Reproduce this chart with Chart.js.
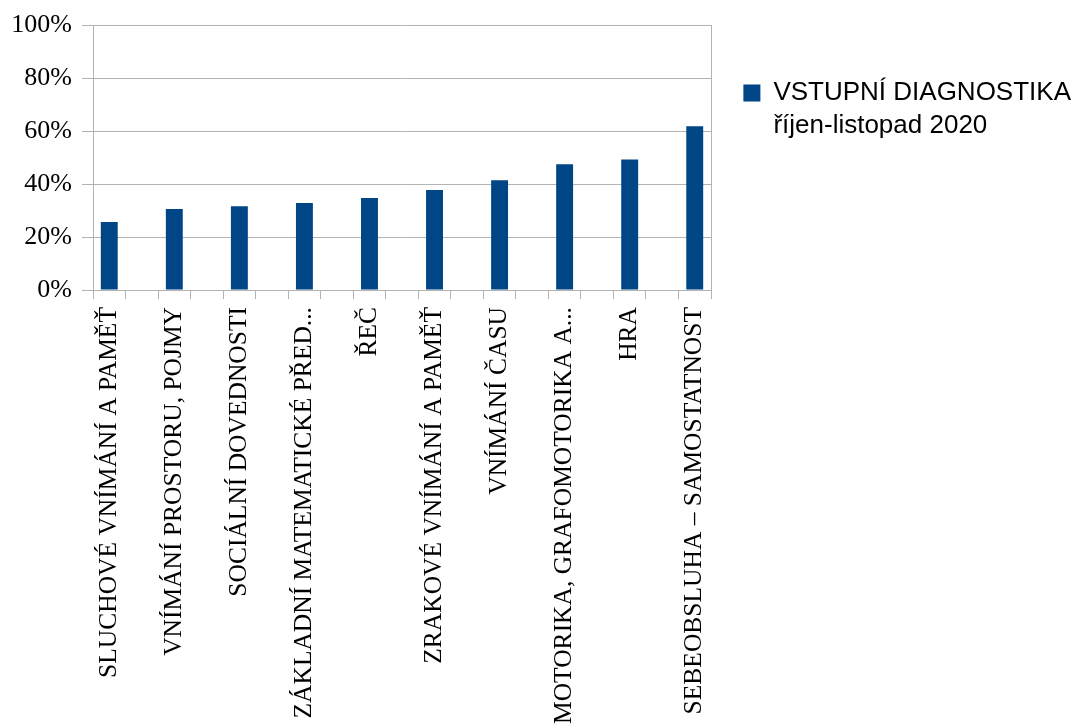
<!DOCTYPE html>
<html><head><meta charset="utf-8">
<script src="https://cdn.jsdelivr.net/npm/chart.js@4"></script>
<style>html,body{margin:0;padding:0;background:#fff}</style>
</head><body>
<canvas id="c" width="1075" height="724"></canvas>
<script>
const categories = [
  'SLUCHOVÉ VNÍMÁNÍ A PAMĚŤ',
  'VNÍMÁNÍ PROSTORU, POJMY',
  'SOCIÁLNÍ DOVEDNOSTI',
  'ZÁKLADNÍ MATEMATICKÉ PŘED...',
  'ŘEČ',
  'ZRAKOVÉ VNÍMÁNÍ A PAMĚŤ',
  'VNÍMÁNÍ ČASU',
  'MOTORIKA, GRAFOMOTORIKA A...',
  'HRA',
  'SEBEOBSLUHA – SAMOSTATNOST'
];
const values = [25.7, 30.6, 31.7, 32.9, 34.8, 37.8, 41.5, 47.6, 49.4, 61.9];
const seriesName = ['VSTUPNÍ DIAGNOSTIKA', 'říjen-listopad 2020'];
const yTickValues = [0, 20, 40, 60, 80, 100];

// every category is followed by an empty slot (as in the reference)
const slotLabels = categories.flatMap((c, i) => i < categories.length - 1 ? [c, ''] : [c]);
const slotValues = values.flatMap((v, i) => i < values.length - 1 ? [v, null] : [v]);

const barColor = '#004586';
const gridColor = '#b3b3b3';
const serif = "'Liberation Serif', 'Times New Roman', serif";
const sans = "'Liberation Sans', Arial, sans-serif";
const padRight = -6;

new Chart(document.getElementById('c'), {
  type: 'bar',
  data: {
    labels: slotLabels,
    datasets: [{
      label: seriesName.join(' '),
      data: slotValues,
      backgroundColor: barColor,
      borderWidth: 0,
      categoryPercentage: 1,
      barPercentage: 0.52
    }]
  },
  options: {
    responsive: false,
    animation: false,
    layout: { padding: { top: 24, right: padRight, bottom: 0, left: 0 } },
    plugins: {
      tooltip: { enabled: false },
      legend: {
        position: 'right',
        align: 'start',
        maxWidth: 420,
        title: { display: true, text: '', font: { size: 1, lineHeight: 1 }, padding: { top: 48, bottom: 0 } },
        labels: {
          boxWidth: 17,
          boxHeight: 17,
          padding: 7,
          color: '#000',
          font: { family: sans, size: 26 },
          generateLabels: () => seriesName.map((t, i) => ({
            text: t,
            fillStyle: i === 0 ? barColor : 'rgba(0,0,0,0)',
            strokeStyle: 'rgba(0,0,0,0)',
            lineWidth: 0,
            hidden: false,
            datasetIndex: 0,
            fontColor: '#000'
          }))
        }
      }
    },
    scales: {
      x: {
        offset: true,
        grid: { offset: true, drawOnChartArea: false, color: gridColor, tickLength: 9, lineWidth: 1 },
        border: { display: true, color: gridColor },
        ticks: {
          autoSkip: false, minRotation: 90, maxRotation: 90, padding: 8,
          color: '#000', font: { family: serif, size: 25.5 }
        },
        afterFit: s => { s.height = 434; }
      },
      y: {
        min: 0, max: 100,
        afterBuildTicks: s => { s.ticks = yTickValues.map(v => ({ value: v })); },
        grid: { color: gridColor, tickLength: 11, lineWidth: 1 },
        border: { display: true, color: gridColor },
        ticks: {
          padding: 10, color: '#000', font: { family: serif, size: 26 },
          callback: v => v + '%'
        },
        afterFit: s => { s.width = 93; }
      },
      y2: {
        position: 'right',
        min: 0, max: 100,
        grid: { display: true, drawOnChartArea: false, drawTicks: false },
        border: { display: true, color: gridColor },
        ticks: { display: false },
        afterFit: s => {
          const lg = s.chart.legend;
          s.width = Math.max(0, s.chart.width - padRight - (lg ? lg.width : 0) - 711);
        }
      }
    }
  }
});
</script>
</body></html>
